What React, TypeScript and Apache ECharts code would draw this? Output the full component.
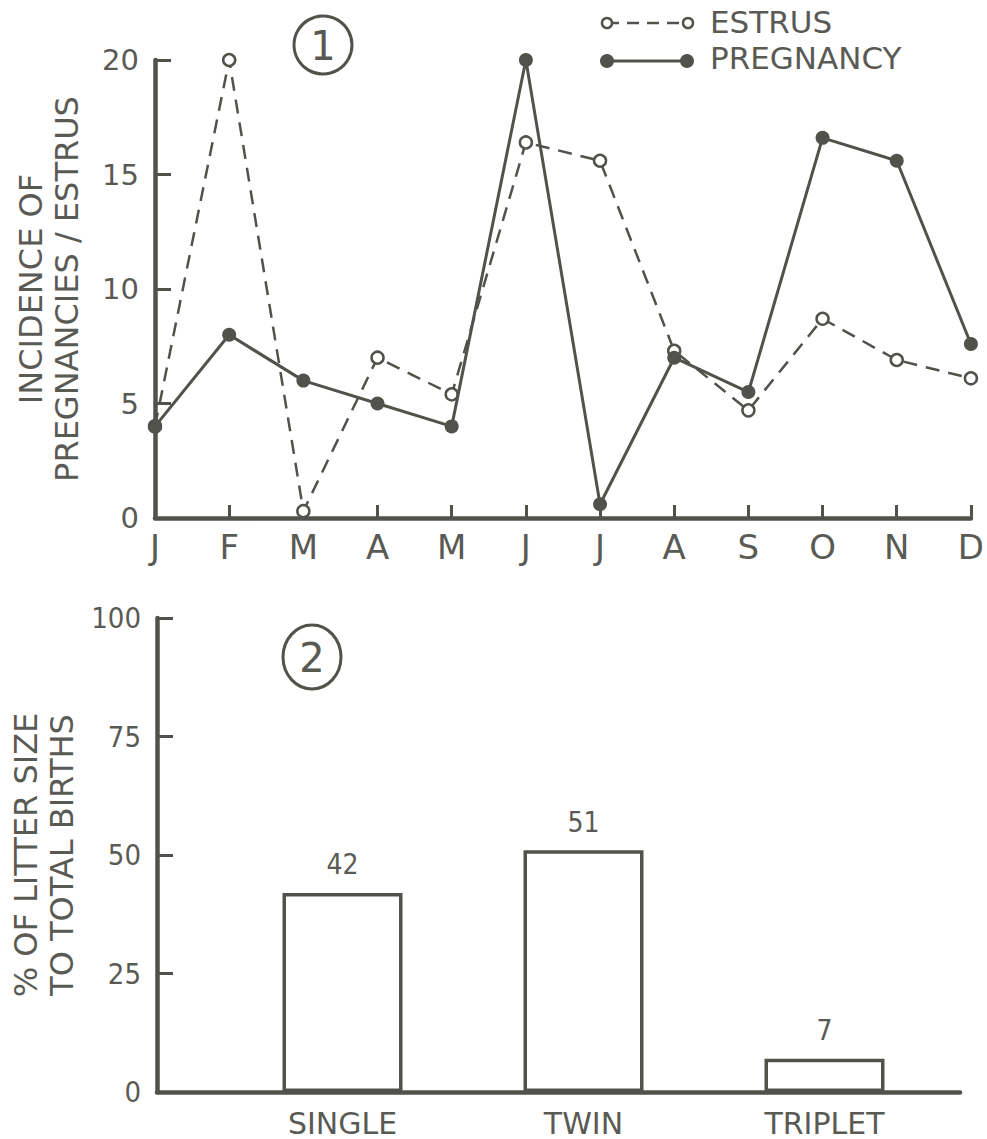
import React, { useEffect, useRef } from 'react';
import * as echarts from 'echarts';

// ---- Data ----
const months = ['J', 'F', 'M', 'A', 'M', 'J', 'J', 'A', 'S', 'O', 'N', 'D'];
const estrus = [4, 20, 0.3, 7, 5.4, 16.4, 15.6, 7.3, 4.7, 8.7, 6.9, 6.1];
const pregnancy = [4, 8, 6, 5, 4, 20, 0.6, 7, 5.5, 16.6, 15.6, 7.6];

const litterCategories = ['SINGLE', 'TWIN', 'TRIPLET'];
const litterPercent = [42, 51, 7];

const incidenceAxis = { min: 0, max: 20, interval: 5 };
const percentAxis = { min: 0, max: 100, interval: 25 };

const INK = '#52524c';
const TEXT = '#5a5a55';
const FONT = "'DejaVu Sans', 'Noto Sans', sans-serif";
const NARROW = "'DejaVu Sans Condensed', 'Liberation Sans Narrow', 'DejaVu Sans', sans-serif";

export default function App() {
  const ref = useRef<HTMLDivElement>(null);

  useEffect(() => {
    if (!ref.current) return;
    const chart = echarts.init(ref.current, null, { renderer: 'svg' });

    const valueAxisCommon = {
      type: 'value' as const,
      axisLine: { show: true, lineStyle: { color: INK, width: 4.5 } },
      axisTick: { show: true, inside: true, length: 16, lineStyle: { color: INK, width: 3 } },
      splitLine: { show: false },
      nameLocation: 'middle' as const,
      nameRotate: 90,
    };

    const option = {
      animation: false,
      backgroundColor: '#ffffff',
      grid: [
        { left: 155, right: 14, top: 60, bottom: 621 },
        { left: 157, right: 27, top: 618, bottom: 47 },
        { left: 222, right: 42, top: 618, bottom: 47 },
      ],
      xAxis: [
        {
          gridIndex: 0,
          type: 'category',
          data: months,
          boundaryGap: false,
          axisLine: { lineStyle: { color: INK, width: 4.5 } },
          axisTick: { inside: true, length: 13, lineStyle: { color: INK, width: 3 } },
          axisLabel: { interval: 0, fontSize: 34, color: TEXT, fontFamily: FONT, margin: 12 },
        },
        {
          gridIndex: 1,
          type: 'value',
          min: 0,
          max: 1,
          axisLine: { show: true, onZero: false, lineStyle: { color: INK, width: 4.5 } },
          axisTick: { show: false },
          axisLabel: { show: false },
          splitLine: { show: false },
        },
        {
          gridIndex: 2,
          type: 'category',
          data: litterCategories,
          axisLine: { show: false },
          axisTick: { show: false },
          axisLabel: { fontSize: 30, color: TEXT, fontFamily: FONT, margin: 16 },
        },
      ],
      yAxis: [
        {
          ...valueAxisCommon,
          gridIndex: 0,
          min: incidenceAxis.min,
          max: incidenceAxis.max,
          interval: incidenceAxis.interval,
          axisLabel: { fontSize: 29, color: TEXT, fontFamily: FONT, margin: 16 },
          name: 'INCIDENCE OF\nPREGNANCIES / ESTRUS',
          nameGap: 70,
          nameTextStyle: { fontSize: 32, lineHeight: 36, color: TEXT, fontFamily: FONT },
        },
        {
          ...valueAxisCommon,
          gridIndex: 1,
          min: percentAxis.min,
          max: percentAxis.max,
          interval: percentAxis.interval,
          axisLabel: { fontSize: 29, color: TEXT, fontFamily: NARROW, margin: 16 },
          name: '% OF LITTER SIZE\nTO TOTAL BIRTHS',
          nameGap: 67,
          nameTextStyle: { fontSize: 32, lineHeight: 36, color: TEXT, fontFamily: FONT },
        },
        {
          gridIndex: 2,
          type: 'value',
          min: percentAxis.min,
          max: percentAxis.max,
          show: false,
          splitLine: { show: false },
        },
      ],
      series: [
        {
          name: 'ESTRUS',
          type: 'line',
          xAxisIndex: 0,
          yAxisIndex: 0,
          data: estrus,
          symbol: 'circle',
          symbolSize: 12,
          itemStyle: { color: '#ffffff', borderColor: INK, borderWidth: 2.5 },
          lineStyle: { color: INK, width: 2.5, type: [14, 9] },
          z: 3,
        },
        {
          name: 'PREGNANCY',
          type: 'line',
          xAxisIndex: 0,
          yAxisIndex: 0,
          data: pregnancy,
          symbol: 'circle',
          symbolSize: 14,
          itemStyle: { color: INK },
          lineStyle: { color: INK, width: 3 },
          z: 4,
        },
        {
          name: 'LITTER',
          type: 'bar',
          xAxisIndex: 2,
          yAxisIndex: 2,
          data: litterPercent,
          barWidth: 120,
          itemStyle: { color: '#ffffff', borderColor: INK, borderWidth: 3.5 },
          label: {
            show: true,
            position: 'top',
            distance: 14,
            fontSize: 28,
            color: TEXT,
            fontFamily: NARROW,
          },
        },
      ],
      graphic: [
        { type: 'circle', shape: { cx: 323, cy: 45, r: 29 }, style: { fill: 'none', stroke: INK, lineWidth: 3 } },
        { type: 'text', x: 323, y: 46, style: { text: '1', fontSize: 40, fill: TEXT, fontFamily: FONT, align: 'center', verticalAlign: 'middle' } },
        { type: 'ellipse', shape: { cx: 312, cy: 657, rx: 29, ry: 32 }, style: { fill: 'none', stroke: INK, lineWidth: 3 } },
        { type: 'text', x: 312, y: 658, style: { text: '2', fontSize: 40, fill: TEXT, fontFamily: FONT, align: 'center', verticalAlign: 'middle' } },
        // legend: estrus
        { type: 'line', shape: { x1: 607, y1: 23, x2: 688, y2: 23 }, style: { stroke: INK, lineWidth: 2.5, lineDash: [12, 8] } },
        { type: 'circle', shape: { cx: 607, cy: 23, r: 5 }, style: { fill: '#ffffff', stroke: INK, lineWidth: 2.5 } },
        { type: 'circle', shape: { cx: 688, cy: 23, r: 5 }, style: { fill: '#ffffff', stroke: INK, lineWidth: 2.5 } },
        { type: 'text', x: 710, y: 22, style: { text: 'ESTRUS', fontSize: 31, fill: TEXT, fontFamily: FONT, verticalAlign: 'middle' } },
        // legend: pregnancy
        { type: 'line', shape: { x1: 607, y1: 61, x2: 687, y2: 61 }, style: { stroke: INK, lineWidth: 3 } },
        { type: 'circle', shape: { cx: 607, cy: 61, r: 7 }, style: { fill: INK } },
        { type: 'circle', shape: { cx: 687, cy: 61, r: 7 }, style: { fill: INK } },
        { type: 'text', x: 710, y: 58, style: { text: 'PREGNANCY', fontSize: 31, fill: TEXT, fontFamily: FONT, verticalAlign: 'middle' } },
      ],
    };

    chart.setOption(option as any);
    return () => chart.dispose();
  }, []);

  return (
    <div
      ref={ref}
      style={{ position: 'absolute', left: 0, top: 0, width: 987, height: 1139, background: '#ffffff' }}
    />
  );
}
